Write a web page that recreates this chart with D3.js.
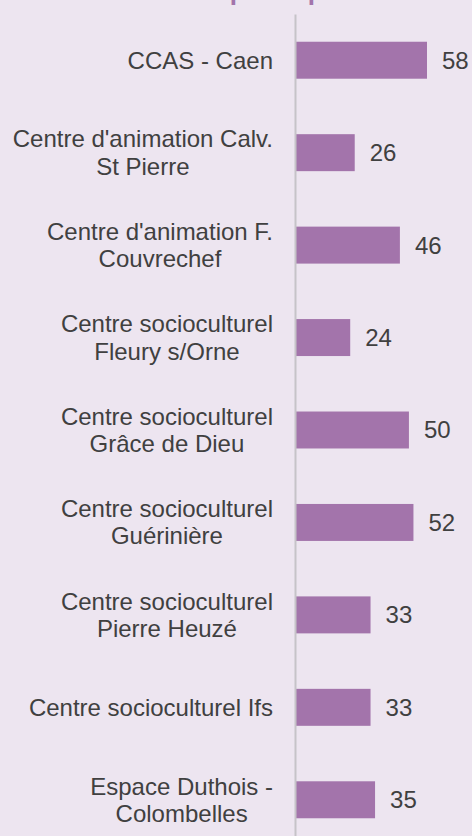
<!DOCTYPE html>
<html><head><meta charset="UTF-8"><title>Nombre de participants</title>
<style>
  body, html {
    margin: 0;
    padding: 0;
    width: 100%;
    height: 100%;
    overflow: hidden;
    background-color: #ede5f0;
    font-family: 'Liberation Sans', Arial, sans-serif;
  }
  .cat { fill: #404040; font-size: 24px; }
  .val { fill: #404040; font-size: 24px; }
  .title { fill: #a374ab; font-size: 26px; font-weight: bold; }
</style>
</head>
<body>
<div id="chart"></div>
<script src="https://d3js.org/d3.v7.min.js"></script>
<script>
const categories = [
  "CCAS - Caen",
  "Centre d'animation Calv. St Pierre",
  "Centre d'animation F. Couvrechef",
  "Centre socioculturel Fleury s/Orne",
  "Centre socioculturel Grâce de Dieu",
  "Centre socioculturel Guérinière",
  "Centre socioculturel Pierre Heuzé",
  "Centre socioculturel Ifs",
  "Espace Duthois - Colombelles"
];
const values = [58, 26, 46, 24, 50, 52, 33, 33, 35];
const title = "Nombre de participants";

const width = 472, height = 836;
const axisX = 295;

const svg = d3.select("#chart").append("svg")
  .attr("width", width)
  .attr("height", height)
  .style("display", "block");

// title is mostly cut off at the top of the picture
svg.append("text")
  .attr("class", "title")
  .attr("x", 232)
  .attr("y", -0.5)
  .attr("text-anchor", "middle")
  .text(title);

const y = d3.scaleBand()
  .domain(categories)
  .range([14, 846])
  .paddingInner(0.6)
  .paddingOuter(0.3);

const x = d3.scaleLinear()
  .domain([0, 58])
  .range([axisX + 1, axisX + 1 + 131]);

svg.selectAll("rect.bar")
  .data(values)
  .enter().append("rect")
  .attr("class", "bar")
  .attr("x", x(0))
  .attr("y", (d, i) => y(categories[i]))
  .attr("width", d => x(d) - x(0))
  .attr("height", y.bandwidth())
  .attr("fill", "#a374ab");

svg.selectAll("text.val")
  .data(values)
  .enter().append("text")
  .attr("class", "val")
  .attr("x", d => x(d) + 15)
  .attr("y", (d, i) => y(categories[i]) + y.bandwidth() / 2)
  .attr("dy", "0.35em")
  .text(d => d);

// axis line
const axis = d3.axisLeft(y).tickSize(0).tickFormat("");
const ag = svg.append("g")
  .attr("transform", `translate(${axisX},0)`)
  .call(axis);
ag.select(".domain").attr("stroke", "#c6c3c8").attr("stroke-width", 2);

// wrapped category labels, lines centred inside a block right-aligned at 273
const labelRight = 273, maxW = 268, lineH = 27.3;
categories.forEach(cat => {
  const g = svg.append("g");
  const words = cat.split(" ");
  const lines = [];
  let cur = [];
  const probe = g.append("text").attr("class", "cat");
  words.forEach(w => {
    const test = cur.concat([w]).join(" ");
    probe.text(test);
    if (probe.node().getComputedTextLength() > maxW && cur.length) {
      lines.push(cur.join(" "));
      cur = [w];
    } else {
      cur.push(w);
    }
  });
  lines.push(cur.join(" "));
  let widest = 0;
  lines.forEach(l => {
    probe.text(l);
    widest = Math.max(widest, probe.node().getComputedTextLength());
  });
  probe.remove();
  const cx = labelRight - widest / 2;
  const cy = y(cat) + y.bandwidth() / 2;
  lines.forEach((l, i) => {
    g.append("text")
      .attr("class", "cat")
      .attr("x", cx)
      .attr("y", cy + (i - (lines.length - 1) / 2) * lineH)
      .attr("dy", "0.35em")
      .attr("text-anchor", "middle")
      .text(l);
  });
});
</script>
</body></html>
